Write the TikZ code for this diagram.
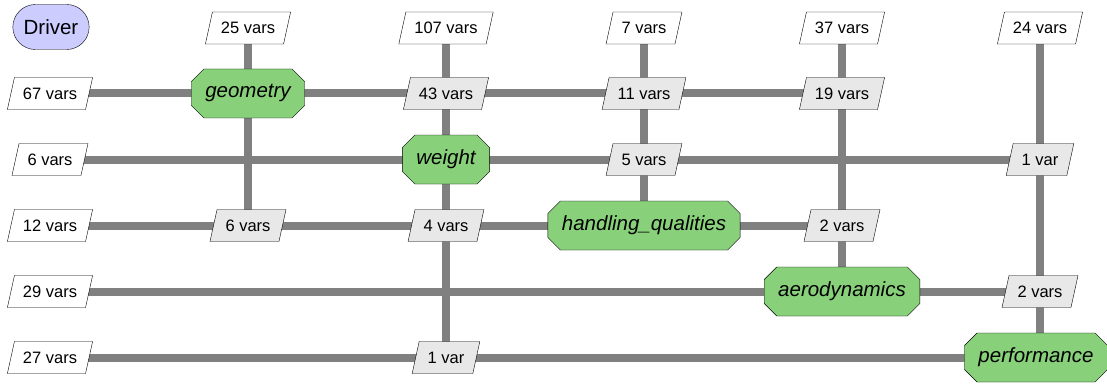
\documentclass[tikz,border=0pt]{standalone}
\usepackage{fontspec}
\setmainfont{Liberation Sans}
\usetikzlibrary{shapes.geometric,shapes.misc,backgrounds}

\definecolor{compgreen}{RGB}{136,209,122}
\definecolor{drvblue}{RGB}{204,204,255}
\definecolor{datagrey}{RGB}{232,232,232}
\definecolor{linegrey}{RGB}{128,128,128}

\tikzset{
  databox/.style={shape=trapezium, trapezium left angle=69, trapezium right angle=111,
    trapezium stretches=true, draw, fill=white, minimum height=32, inner xsep=8.5,
    font=\fontsize{16.5}{19}\selectfont},
  coupling/.style={databox, fill=datagrey},
  compbox/.style={shape=chamfered rectangle, chamfered rectangle xsep=9, draw,
    fill=compgreen, minimum height=49, inner xsep=5, font=\fontsize{20.5}{24}\selectfont\itshape},
  driverbox/.style={shape=rounded rectangle, draw, fill=drvblue, minimum width=83,
    minimum height=45, font=\fontsize{20.5}{23}\selectfont},
  flow/.style={line width=8pt, linegrey}
}

\begin{document}
\begin{tikzpicture}[x=1pt,y=-1pt]
\useasboundingbox (0,0) rectangle (1107,385);
% diagonal
\node (drv) at (51,27) [driverbox]{Driver};
\node (geom) at (248,93.5) [compbox]{geometry};
\node (wt) at (446,159.5) [compbox]{weight};
\node (hq) at (644,225.5) [compbox]{handling\_qualities};
\node (aero) at (842,291.5) [compbox]{aerodynamics};
\node (perf) at (1036,357.5) [compbox]{performance};
% inputs from the driver
\node (in1) at (248,28) [databox]{25 vars};
\node (in2) at (446,28) [databox]{107 vars};
\node (in3) at (644,28) [databox]{7 vars};
\node (in4) at (842,28) [databox]{37 vars};
\node (in5) at (1040,28) [databox]{24 vars};
% outputs to the driver
\node (out1) at (50,93.5) [databox]{67 vars};
\node (out2) at (50,159.5) [databox]{6 vars};
\node (out3) at (50,225.5) [databox]{12 vars};
\node (out4) at (50,291.5) [databox]{29 vars};
\node (out5) at (50,357.5) [databox]{27 vars};
% couplings
\node (c12) at (446,93.5) [coupling]{43 vars};
\node (c13) at (644,93.5) [coupling]{11 vars};
\node (c14) at (842,93.5) [coupling]{19 vars};
\node (c23) at (644,159.5) [coupling]{5 vars};
\node (c25) at (1040,159.5) [coupling]{1 var};
\node (c31) at (248,225.5) [coupling]{6 vars};
\node (c32) at (446,225.5) [coupling]{4 vars};
\node (c34) at (842,225.5) [coupling]{2 vars};
\node (c45) at (1040,291.5) [coupling]{2 vars};
\node (c52) at (446,357.5) [coupling]{1 var};
\begin{pgfonlayer}{background}
\draw [flow] (in1.center) -- (c31.center);
\draw [flow] (in2.center) -- (c52.center);
\draw [flow] (in3.center) -- (hq.center);
\draw [flow] (in4.center) -- (aero.center);
\draw [flow] (in5.center) -- (c45.center) -- (c45.center |- perf.center);
\draw [flow] (out1.center) -- (c14.center);
\draw [flow] (out2.center) -- (c25.center);
\draw [flow] (out3.center) -- (c34.center);
\draw [flow] (out4.center) -- (c45.center);
\draw [flow] (out5.center) -- (perf.center);
\end{pgfonlayer}
\end{tikzpicture}
\end{document}
